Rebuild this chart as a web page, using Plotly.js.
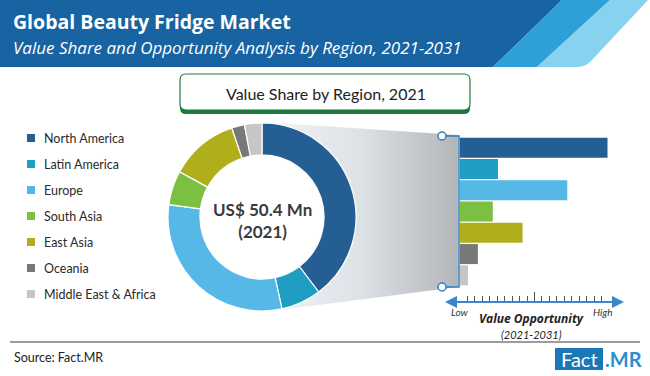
<!DOCTYPE html>
<html>
<head>
<meta charset="utf-8">
<script src="https://cdn.plot.ly/plotly-3.0.1.min.js"></script>
<style>html,body{margin:0;padding:0;background:#fff;}#chart{width:650px;height:376px;}</style>
</head>
<body>
<div id="chart"></div>
<script>
// ---- data ----
const regions = ['North America', 'Latin America', 'Europe', 'South Asia', 'East Asia', 'Oceania', 'Middle East & Africa'];
const shareValues = [39.7, 6.9, 30.5, 5.9, 11.8, 2.2, 3.0];          // value share 2021 (%)
const opportunityValues = [99, 25.5, 72, 22, 42, 12, 5.4];            // relative value opportunity (Low=0 .. High=100)
const regionColors = ['#245e92', '#1f9dc3', '#55b8e6', '#7bbf43', '#b1ae1c', '#787878', '#c6c6c6'];
const marketSizeLabel = 'US$ 50.4 Mn';
const baseYearLabel = '(2021)';
const funnelX = [262, 458, 458, 280, 262];
const funnelY = [122, 135, 287, 310, 122];

// ---- layout helpers ----
const W = 650, H = 376;
const px = x => x / W;
const py = y => 1 - y / H;
const FONT = 'Lato, "Open Sans", sans-serif';
const FONT2 = '"Open Sans", Lato, sans-serif';

function poly(pts) {
  return 'M' + pts.map(p => p[0] + ',' + p[1]).join('L') + 'Z';
}

const shapes = [];
const annotations = [];

// header band
shapes.push({type: 'path', xref: 'x', yref: 'y', layer: 'below', line: {width: 0}, fillcolor: '#1863a2',
  path: poly([[0, 0], [562, 0], [493, 67], [0, 67]])});
shapes.push({type: 'path', xref: 'x', yref: 'y', layer: 'below', line: {width: 0}, fillcolor: '#2ea0d8',
  path: poly([[562, 0], [610, 0], [537, 67], [493, 67]])});
shapes.push({type: 'path', xref: 'x', yref: 'y', layer: 'below', line: {width: 0}, fillcolor: '#86d2ef',
  path: 'M610,0L648,0L592,60Q586,67 577,67L537,67Z'});

annotations.push({xref: 'x', yref: 'y', x: 11, y: 21, xanchor: 'left', yanchor: 'middle', showarrow: false,
  text: '<b>Global Beauty Fridge Market</b>', font: {family: FONT2, size: 19.5, color: '#ffffff'}});
annotations.push({xref: 'x', yref: 'y', x: 11, y: 47, xanchor: 'left', yanchor: 'middle', showarrow: false,
  text: '<i>Value Share and Opportunity Analysis by Region, 2021-2031</i>', font: {family: FONT2, size: 17, color: '#ffffff'}});

// title box
shapes.push({type: 'path', xref: 'x', yref: 'y', layer: 'above', line: {width: 0}, fillcolor: '#1b7a3c',
  path: 'M186,77L464,77Q470,77 470,83L470,108Q470,114 464,114L186,114Q180,114 180,108L180,83Q180,77 186,77Z'});
shapes.push({type: 'path', xref: 'x', yref: 'y', layer: 'above', line: {width: 1.2, color: '#1b7a3c'}, fillcolor: '#ffffff',
  path: 'M186,74L464,74Q470,74 470,80L470,104Q470,110 464,110L186,110Q180,110 180,104L180,80Q180,74 186,74Z'});
annotations.push({xref: 'x', yref: 'y', x: 326, y: 93, xanchor: 'center', yanchor: 'middle', showarrow: false,
  text: 'Value Share by Region, 2021', font: {family: FONT, size: 16, color: '#222222'}});

// manual legend
regions.forEach((r, i) => {
  const cy = 138 + i * 26;
  shapes.push({type: 'rect', xref: 'x', yref: 'y', layer: 'above', x0: 27, x1: 35, y0: cy - 4, y1: cy + 4,
    line: {width: 0}, fillcolor: regionColors[i]});
  annotations.push({xref: 'x', yref: 'y', x: 42, y: cy, xanchor: 'left', yanchor: 'middle', showarrow: false,
    text: r, font: {family: FONT, size: 12.5, color: '#2a2a2a'}});
});

// center label
annotations.push({xref: 'x', yref: 'y', x: 262, y: 220, xanchor: 'center', yanchor: 'middle', showarrow: false,
  text: '<b>' + marketSizeLabel + '<br>' + baseYearLabel + '</b>', font: {family: FONT, size: 17, color: '#3b3b3b'}});

// bracket
const BLUE = '#2e7fc0';
shapes.push({type: 'path', xref: 'x', yref: 'y', layer: 'above', line: {width: 1.5, color: BLUE},
  path: 'M442,136L459,136L459,287L442,287'});
[136, 287].forEach(cy => shapes.push({type: 'circle', xref: 'x', yref: 'y', layer: 'above',
  x0: 438, x1: 446, y0: cy - 4, y1: cy + 4, line: {width: 1.5, color: BLUE}, fillcolor: '#ffffff'}));

// value-opportunity axis line with arrows
shapes.push({type: 'line', xref: 'x', yref: 'y', layer: 'above', x0: 450, x1: 618, y0: 302, y1: 302,
  line: {width: 2, color: '#3a86c8'}});
annotations.push({xref: 'x', yref: 'y', x: 445, y: 302, ax: 10, ay: 0, text: '', showarrow: true,
  arrowhead: 2, arrowsize: 1.2, arrowwidth: 2, arrowcolor: '#3a86c8'});
annotations.push({xref: 'x', yref: 'y', x: 624, y: 302, ax: -10, ay: 0, text: '', showarrow: true,
  arrowhead: 2, arrowsize: 1.2, arrowwidth: 2, arrowcolor: '#3a86c8'});
annotations.push({xref: 'x', yref: 'y', x: 460, y: 312, xanchor: 'center', yanchor: 'middle', showarrow: false,
  text: '<i>Low</i>', font: {family: FONT, size: 10, color: '#333333'}});
annotations.push({xref: 'x', yref: 'y', x: 602, y: 312, xanchor: 'center', yanchor: 'middle', showarrow: false,
  text: '<i>High</i>', font: {family: FONT, size: 10, color: '#333333'}});
annotations.push({xref: 'x', yref: 'y', x: 531, y: 318, xanchor: 'center', yanchor: 'middle', showarrow: false,
  text: '<b><i>Value Opportunity</i></b>', font: {family: FONT2, size: 12, color: '#222222'}});
annotations.push({xref: 'x', yref: 'y', x: 531, y: 334, xanchor: 'center', yanchor: 'middle', showarrow: false,
  text: '<i>(2021-2031)</i>', font: {family: FONT, size: 11, color: '#222222'}});

// footer
shapes.push({type: 'line', xref: 'x', yref: 'y', layer: 'above', x0: 10, x1: 640, y0: 342, y1: 342,
  line: {width: 1, color: '#3a3a3a'}});
annotations.push({xref: 'x', yref: 'y', x: 12, y: 357, xanchor: 'left', yanchor: 'middle', showarrow: false,
  text: 'Source: Fact.MR', font: {family: FONT, size: 12.5, color: '#222222'}});
shapes.push({type: 'rect', xref: 'x', yref: 'y', layer: 'above', x0: 555, x1: 603, y0: 348, y1: 370,
  line: {width: 0}, fillcolor: '#1b78b6'});
annotations.push({xref: 'x', yref: 'y', x: 579, y: 359, xanchor: 'center', yanchor: 'middle', showarrow: false,
  text: 'Fact', font: {family: FONT, size: 20, color: '#ffffff'}});
annotations.push({xref: 'x', yref: 'y', x: 603, y: 359, xanchor: 'left', yanchor: 'middle', showarrow: false,
  text: '<b>.MR</b>', font: {family: FONT, size: 20, color: '#2a90d2'}});

// ---- traces ----
const funnel = {
  type: 'scatter', mode: 'lines', x: funnelX, y: funnelY, xaxis: 'x', yaxis: 'y',
  fill: 'toself', line: {width: 0}, hoverinfo: 'skip', showlegend: false,
  fillgradient: {type: 'horizontal', colorscale: [[0, '#f3f6f9'], [0.5, '#dde2e7'], [1, '#b3b6b9']]}
};

// white disc so the donut hole stays white above the funnel fill
const holeMask = {
  type: 'scatter', mode: 'markers', x: [262], y: [217], xaxis: 'x', yaxis: 'y',
  marker: {size: 128, color: '#ffffff', line: {width: 0}}, hoverinfo: 'skip', showlegend: false
};

const donut = {
  type: 'pie', labels: regions, values: shareValues, sort: false, direction: 'clockwise', rotation: 0,
  hole: 0.66, textinfo: 'none', showlegend: false,
  marker: {colors: regionColors, line: {color: '#ffffff', width: 1.2}},
  domain: {x: [px(168), px(356)], y: [py(311), py(123)]}
};

const bars = {
  type: 'bar', orientation: 'h', y: regions, x: opportunityValues, xaxis: 'x2', yaxis: 'y2',
  marker: {color: regionColors}, showlegend: false, hoverinfo: 'y+x'
};

const layout = {
  width: W, height: H, margin: {l: 0, r: 0, t: 0, b: 0},
  paper_bgcolor: '#ffffff', plot_bgcolor: 'rgba(0,0,0,0)', showlegend: false,
  xaxis: {domain: [0, 1], range: [0, W], visible: false, fixedrange: true},
  yaxis: {domain: [0, 1], range: [H, 0], visible: false, fixedrange: true},
  xaxis2: {domain: [px(460), px(609)], range: [0, 100], anchor: 'free', position: py(302),
    showgrid: false, zeroline: false, showline: false, showticklabels: false,
    ticks: 'inside', ticklen: 10, tickwidth: 1, tickcolor: '#555555', tick0: 0, dtick: 50,
    minor: {dtick: 5, ticks: 'inside', ticklen: 6, tickwidth: 1, tickcolor: '#555555', showgrid: false},
    fixedrange: true},
  yaxis2: {domain: [py(286), py(137)], anchor: 'x2', type: 'category', autorange: 'reversed',
    visible: false, fixedrange: true},
  bargap: 0.06,
  shapes: shapes,
  annotations: annotations
};

Plotly.newPlot('chart', [funnel, holeMask, bars, donut], layout, {displayModeBar: false, staticPlot: true});
</script>
</body>
</html>
